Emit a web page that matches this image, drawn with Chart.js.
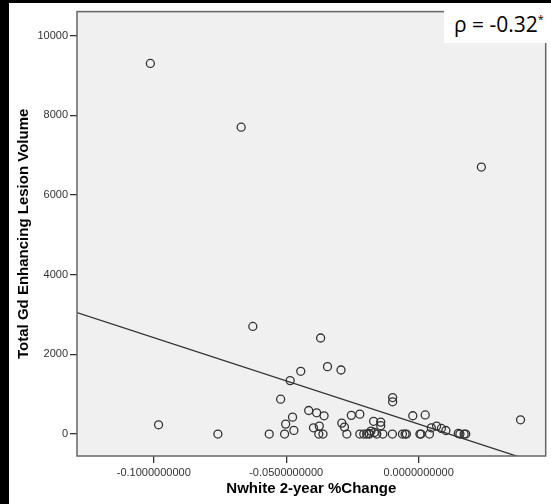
<!DOCTYPE html>
<html>
<head>
<meta charset="utf-8">
<script src="https://cdn.jsdelivr.net/npm/chart.js@4.4.0/dist/chart.umd.min.js"></script>
<style>
  body { margin: 0; background: #000; }
  #wrap { position: absolute; left: 9px; top: 3px; width: 542px; height: 501px; background: #fff; }
  #rho {
    position: absolute; left: 435px; top: 0; width: 107px; height: 40px; background: #fff;
    font-family: "Open Sans", sans-serif; font-size: 21px; color: #000;
    line-height: 40px; padding-left: 10px; box-sizing: border-box; padding-top: 1px;
  }
  #rho sup { font-size: 11px; vertical-align: 9px; line-height: 0; }
</style>
</head>
<body>
<div id="wrap">
  <canvas id="scatter" width="542" height="501"></canvas>
  <div id="rho">ρ = -0.32<sup>*</sup></div>
</div>
<script>
// Nwhite 2-year %Change vs Total Gd Enhancing Lesion Volume
const X_VALUES = [
  -0.1013, -0.0670, 0.0237, -0.0982, -0.0758, -0.0626, -0.0370, -0.0564, -0.0506, -0.0445,
  -0.0344, -0.0293, -0.0485, -0.0521, -0.0415, -0.0385, -0.0357, -0.0476, -0.0502, -0.0471,
  -0.0397, -0.0375, -0.0377, -0.0361, -0.0290, -0.0280, -0.0271, -0.0254, -0.0222, -0.0222,
  -0.0207, -0.0188, -0.0180, -0.0170, -0.0158, -0.0143, -0.0143, -0.0135, -0.0098, -0.0098,
  -0.0099, -0.0061, -0.0051, -0.0046, -0.0022, 0.0025, 0.0005, 0.0009, 0.0041, 0.0048,
  0.0068, 0.0086, 0.0103, 0.0150, 0.0156, 0.0172, 0.0178, 0.0385, -0.0186, -0.0196,
  -0.0167
];
const Y_VALUES = [
  9300, 7700, 6700, 233, 0, 2700, 2410, 0, 0, 1575,
  1692, 1608, 1342, 875, 592, 533, 458, 425, 250, 92,
  158, 200, 0, 0, 275, 175, 0, 470, 500, 0,
  0, 17, 75, 320, 0, 300, 210, 0, 917, 810,
  0, 0, 0, 0, 460, 480, 0, 0, 0, 158,
  200, 142, 90, 17, 0, 0, 0, 358, 0, 0,
  40
];
// fitted line, read at the plot edges
const FIT_X = [-0.129, 0.048];
const FIT_Y = [3050, -790];

const X_TICKS = [-0.1, -0.05, 0];
const Y_TICKS = [0, 2000, 4000, 6000, 8000, 10000];
const X_RANGE = [-0.129, 0.048];
const Y_RANGE = [-550, 10600];

const frame = {
  id: 'frame',
  beforeDatasetsDraw(chart) {
    const { ctx, chartArea: a } = chart;
    ctx.save();
    ctx.fillStyle = '#f0f0f0';
    ctx.fillRect(a.left, a.top, a.right - a.left, a.bottom - a.top);
    ctx.restore();
  },
  afterDraw(chart) {
    const { ctx, chartArea: a } = chart;
    ctx.save();
    ctx.strokeStyle = '#666';
    ctx.lineWidth = 1.5;
    ctx.strokeRect(a.left, a.top, a.right - a.left, a.bottom - a.top);
    ctx.restore();
  }
};

const tickFont = { family: 'Liberation Sans, Arial, sans-serif', size: 11 };
const titleFont = { family: 'Liberation Sans, Arial, sans-serif', size: 15, weight: 'bold' };

new Chart(document.getElementById('scatter'), {
  type: 'scatter',
  data: {
    datasets: [
      {
        data: X_VALUES.map((x, i) => ({ x, y: Y_VALUES[i] })),
        pointRadius: 4,
        pointHoverRadius: 4,
        borderWidth: 1.3,
        borderColor: '#333',
        backgroundColor: 'rgba(0,0,0,0)',
      },
      {
        type: 'line',
        data: FIT_X.map((x, i) => ({ x, y: FIT_Y[i] })),
        borderColor: '#333',
        borderWidth: 1.3,
        pointRadius: 0,
        fill: false,
      },
    ],
  },
  options: {
    responsive: false,
    animation: false,
    events: [],
    layout: { padding: { top: 7, right: 4, left: 0, bottom: 0 } },
    plugins: { legend: { display: false }, tooltip: { enabled: false } },
    scales: {
      x: {
        type: 'linear',
        min: X_RANGE[0], max: X_RANGE[1],
        afterBuildTicks: s => { s.ticks = X_TICKS.map(v => ({ value: v })); },
        afterFit: s => { s.height = 48; },
        grid: { drawOnChartArea: false, drawTicks: true, tickLength: 7, color: '#333', lineWidth: 1.3 },
        border: { display: false },
        ticks: { font: tickFont, color: '#333', padding: 3, maxRotation: 0, callback: v => v.toFixed(10) },
        title: { display: true, text: 'Nwhite 2-year %Change', font: titleFont, color: '#000', padding: { top: 0, bottom: 6 } },
      },
      y: {
        type: 'linear',
        min: Y_RANGE[0], max: Y_RANGE[1],
        afterBuildTicks: s => { s.ticks = Y_TICKS.map(v => ({ value: v })); },
        afterFit: s => { s.width = 68; },
        grid: { drawOnChartArea: false, drawTicks: true, tickLength: 7, color: '#333', lineWidth: 1.3 },
        border: { display: false },
        ticks: { font: tickFont, color: '#333', padding: 2, callback: v => String(v) },
        title: { display: true, text: 'Total Gd Enhancing Lesion Volume', font: titleFont, color: '#000', padding: { top: 6, bottom: 0 } },
      },
    },
  },
  plugins: [frame],
});
</script>
</body>
</html>
